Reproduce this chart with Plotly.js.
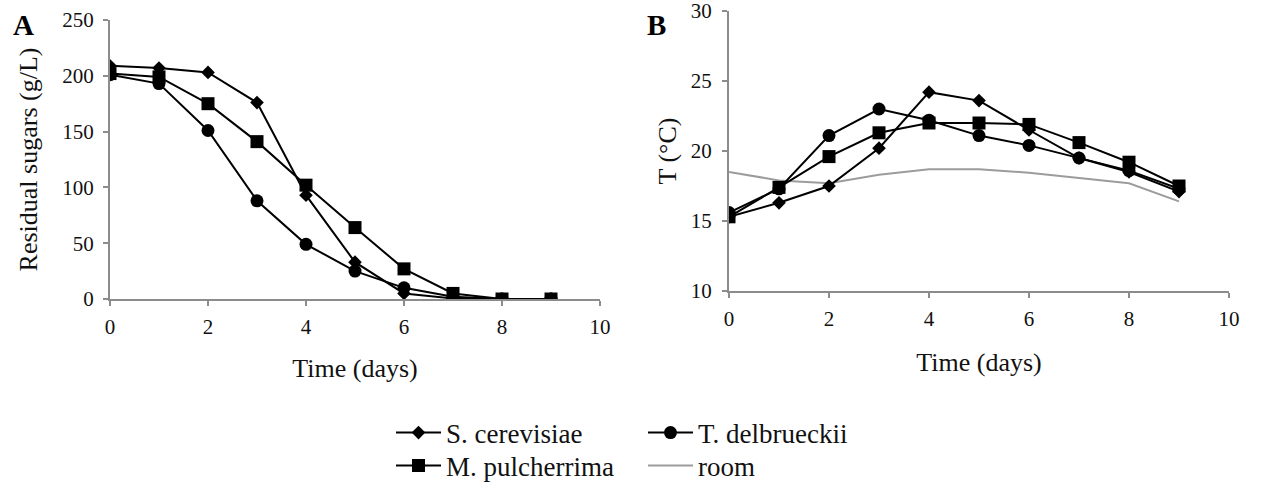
<!DOCTYPE html>
<html><head><meta charset="utf-8">
<script src="https://cdn.plot.ly/plotly-3.0.1.min.js"></script>
<style>html,body{margin:0;padding:0;background:#fff}</style>
</head><body>
<div id="chart" style="width:1265px;height:491px"></div>
<script>
const days = [0,1,2,3,4,5,6,7,8,9];
const sugarScer = [209,207,203,176,93,33,5,0.5,0,0];
const sugarTdel = [201,193,151,88,49,25,10,2,0,0];
const sugarMpul = [202,199,175,141,102,64,27,5,0,0];
const tempScer = [15.3,16.3,17.5,20.2,24.2,23.6,21.5,19.5,18.5,17.1];
const tempTdel = [15.6,17.3,21.1,23.0,22.2,21.1,20.4,19.5,18.6,17.3];
const tempMpul = [15.3,17.4,19.6,21.3,22.0,22.0,21.9,20.6,19.2,17.5];
const tempRoom = [18.5,17.9,17.7,18.3,18.7,18.7,18.45,18.1,17.7,16.4];
const names = ['S. cerevisiae','T. delbrueckii','M. pulcherrima','room'];

const F = "'Liberation Serif', 'Times New Roman', serif";
const blk = '#000';
function tr(y, name, sym, xa, ya, show, leg){
  return {x: days, y: y, name: name, type: 'scatter', mode: 'lines+markers',
    line: {color: blk, width: 2}, marker: {symbol: sym, size: sym==='diamond'?10.5:13, color: blk},
    xaxis: xa, yaxis: ya, showlegend: show, legend: leg};
}
const data = [
  tr(sugarScer, names[0], 'diamond', 'x', 'y', true, 'legend'),
  tr(sugarTdel, names[1], 'circle', 'x', 'y', true, 'legend'),
  tr(sugarMpul, names[2], 'square', 'x', 'y', true, 'legend2'),
  {x: days, y: tempRoom, name: names[3], type: 'scatter', mode: 'lines',
   line: {color: '#9c9c9c', width: 2}, xaxis: 'x2', yaxis: 'y2', showlegend: true, legend: 'legend2'},
  tr(tempScer, names[0], 'diamond', 'x2', 'y2', false, 'legend'),
  tr(tempTdel, names[1], 'circle', 'x2', 'y2', false, 'legend'),
  tr(tempMpul, names[2], 'square', 'x2', 'y2', false, 'legend2')
];
function ax(extra){
  return Object.assign({
    showgrid: false, zeroline: false, showline: true, linecolor: '#8c8c8c', linewidth: 2,
    ticks: 'outside', ticklen: 5, tickwidth: 2, tickcolor: '#8c8c8c',
    tickfont: {family: F, size: 21, color: '#111'}, automargin: false, ticklabeloverflow: 'allow'
  }, extra);
}
function tf(s){ return {family: F, size: s || 26, color: '#111'}; }
const layout = {
  width: 1265, height: 491,
  margin: {l: 0, r: 0, t: 0, b: 0},
  paper_bgcolor: '#fff', plot_bgcolor: '#fff',
  font: {family: F},
  xaxis: ax({domain: [110/1265, 600/1265], range: [0, 10], dtick: 2, ticklabelstandoff: 3,
    title: {text: 'Time (days)', font: tf(), standoff: 21}}),
  yaxis: ax({domain: [(491-299)/491, (491-20)/491], range: [0, 250], dtick: 50, ticklabelstandoff: 5,
    title: {text: 'Residual sugars (g/L)', font: tf(), standoff: 17}}),
  xaxis2: ax({domain: [729/1265, 1229/1265], range: [0, 10], dtick: 2, anchor: 'y2', ticklabelstandoff: 3,
    title: {text: 'Time (days)', font: tf(), standoff: 23}}),
  yaxis2: ax({domain: [(491-291)/491, (491-11)/491], range: [10, 30], dtick: 5, anchor: 'x2', ticklabelstandoff: 6,
    title: {text: 'T (°C)', font: tf(), standoff: 7}}),
  legend: {orientation: 'h', x: 391/1265, xanchor: 'left', y: (491-433)/491, yanchor: 'middle',
    entrywidth: 192, entrywidthmode: 'pixels', itemwidth: 45, font: tf(27), bgcolor: 'rgba(0,0,0,0)'},
  legend2: {orientation: 'h', x: 391/1265, xanchor: 'left', y: (491-466)/491, yanchor: 'middle',
    entrywidth: 192, entrywidthmode: 'pixels', itemwidth: 45, font: tf(27), bgcolor: 'rgba(0,0,0,0)'},
  annotations: [
    {text: '<b>A</b>', x: 23/1265, y: (491-25)/491, xref: 'paper', yref: 'paper', showarrow: false,
     font: {family: F, size: 29, color: '#000'}, xanchor: 'center', yanchor: 'middle'},
    {text: '<b>B</b>', x: 656/1265, y: (491-25)/491, xref: 'paper', yref: 'paper', showarrow: false,
     font: {family: F, size: 29, color: '#000'}, xanchor: 'center', yanchor: 'middle'}
  ]
};
Plotly.newPlot('chart', data, layout, {displayModeBar: false, staticPlot: true});
</script>
</body></html>
